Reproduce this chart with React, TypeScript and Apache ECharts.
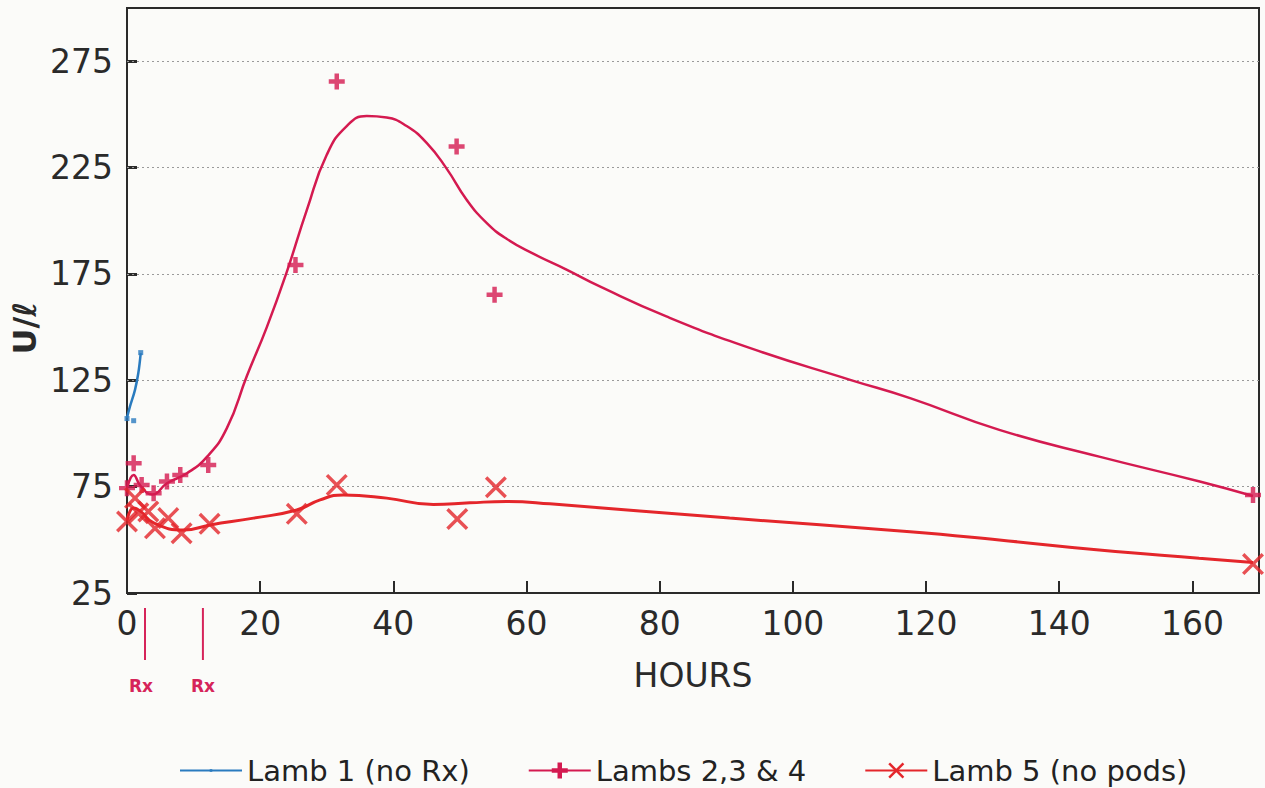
import React, { useEffect, useRef } from "react";
import * as echarts from "echarts";

// ---- data ----
const xTickInterval = 20;
const yTickValues = [25, 75, 125, 175, 225, 275];
const gridValues = [75, 125, 175, 225, 275];

const seriesNames = ["Lamb 1 (no Rx)", "Lambs 2,3 & 4", "Lamb 5 (no pods)"];

const lamb1Points: number[][] = [[0, 107], [1, 106], [2.06, 138]];
const lamb1Curve: number[][] = [[0, 107.4], [0.45, 112.7], [1.2, 120.5], [1.7, 128.4], [2.06, 137.8]];

const lambs234Points: number[][] = [
  [0, 74.3], [1, 86], [2.2, 75.8], [4, 71.9], [6, 77.4], [8, 80.5], [12.2, 85.2],
  [25.3, 179.2], [31.5, 265.5], [49.5, 234.9], [55.2, 165.2], [169.1, 71.1],
];
const lambs234Curve: number[][] = [
  [0, 74], [1, 80.5], [2, 75.5], [3.8, 71.3], [6, 76.6], [9, 81.3], [12, 89], [15, 102.5],
  [18, 127], [21, 150], [24, 176], [27, 205], [30, 231], [33, 244.5], [36, 249.2], [39, 248.5],
  [42, 244.5], [45, 236.6], [48, 224.5], [51, 209.9], [54, 199], [57, 191.5], [61, 184.5],
  [66, 177], [71, 169.1], [81, 155], [93.5, 140.2], [108.6, 125.2], [117.6, 116.6],
  [131, 101.7], [146, 89.1], [161.1, 77.4], [169.1, 70.6],
];

const lamb5Points: number[][] = [
  [0, 58.6], [1.2, 69.6], [1.7, 62.5], [3.2, 63.3], [4.2, 55.4], [6.2, 60.2], [8.2, 53.1],
  [12.4, 57.5], [25.5, 62.2], [31.5, 75.8], [49.6, 59.8], [55.4, 74.7], [169.1, 38.6],
];
const lamb5Curve: number[][] = [
  [0, 59], [1, 65], [2, 63.5], [4, 58], [8.5, 54.6], [12.5, 57], [19, 60.2], [25.5, 64],
  [29, 68.8], [32.5, 71.1], [39, 69.6], [46, 66.6], [51.5, 67.4], [57, 68], [63.5, 66.9],
  [90.5, 60.2], [117.6, 53.8], [131, 49.9], [146, 45.2], [161, 41.3], [169.1, 39.3],
];

const rxHours = [2.7, 11.4];

// ---- styling ----
const BLUE = "#2a7bbf";
const CRIMSON = "#d41a50";
const RED = "#e4262b";
const FONT = "DejaVu Sans";

const PLUS = "path://M3.6,0H6.4V3.6H10V6.4H6.4V10H3.6V6.4H0V3.6H3.6Z";
const CROSS = "path://M0,1.1L1.1,0L5,3.9L8.9,0L10,1.1L6.1,5L10,8.9L8.9,10L5,6.1L1.1,10L0,8.9L3.9,5Z";
const DOT = "path://M0,0L0,0M10,10L10,10M4.2,4.2H5.8V5.8H4.2Z";

export default function App() {
  const ref = useRef<HTMLDivElement>(null);

  useEffect(() => {
    if (!ref.current) return;
    const chart = echarts.init(ref.current, null, { renderer: "svg" });

    const option: any = {
      animation: false,
      backgroundColor: "#fbfbf9",
      grid: {
        left: 127,
        right: 6,
        top: 8,
        bottom: 195,
        show: true,
        borderColor: "#2a2a2a",
        borderWidth: 2,
        containLabel: false,
        outerBoundsMode: "none",
      },
      legend: {
        data: seriesNames,
        left: 174,
        top: 751,
        itemWidth: 62,
        itemHeight: 20,
        itemGap: 58,
        textStyle: { fontFamily: FONT, fontSize: 29, color: "#222" },
      },
      xAxis: {
        type: "value",
        min: 0,
        max: 170,
        interval: xTickInterval,
        name: "HOURS",
        nameLocation: "middle",
        nameGap: 66,
        nameTextStyle: { fontFamily: FONT, fontSize: 33, color: "#2a2a2a" },
        axisLine: { show: true, lineStyle: { color: "#2a2a2a", width: 2 } },
        axisTick: { show: true, inside: true, length: 12, lineStyle: { color: "#2a2a2a", width: 2 } },
        axisLabel: {
          fontFamily: FONT,
          fontSize: 33,
          color: "#2a2a2a",
          margin: 14,
          showMaxLabel: false,
        },
        splitLine: { show: false },
      },
      yAxis: {
        type: "value",
        min: 25,
        max: 300,
        axisLine: { show: true, lineStyle: { color: "#2a2a2a", width: 2 } },
        axisTick: {
          show: true,
          inside: true,
          length: 10,
          customValues: yTickValues,
          lineStyle: { color: "#2a2a2a", width: 3 },
        },
        axisLabel: {
          fontFamily: FONT,
          fontSize: 33,
          color: "#2a2a2a",
          margin: 14,
          customValues: yTickValues,
        },
        splitLine: { show: false },
      },
      series: [
        {
          name: seriesNames[0],
          type: "line",
          data: lamb1Curve,
          smooth: 0.4,
          symbol: DOT,
          showSymbol: false,
          lineStyle: { color: BLUE, width: 2.5 },
          itemStyle: { color: BLUE },
          silent: true,
          z: 3,
        },
        {
          name: seriesNames[1],
          type: "line",
          data: lambs234Curve,
          smooth: 0.5,
          symbol: PLUS,
          showSymbol: false,
          lineStyle: { color: CRIMSON, width: 2.5 },
          itemStyle: { color: CRIMSON },
          silent: true,
          z: 3,
          markLine: {
            silent: true,
            symbol: "none",
            label: { show: false },
            lineStyle: { color: "#9a9a9a", width: 1, type: [2, 3] },
            data: gridValues.map((v) => ({ yAxis: v })),
            z: 1,
          },
        },
        {
          name: seriesNames[2],
          type: "line",
          data: lamb5Curve,
          smooth: 0.5,
          symbol: CROSS,
          showSymbol: false,
          lineStyle: { color: RED, width: 3 },
          itemStyle: { color: RED },
          silent: true,
          z: 3,
        },
        {
          name: seriesNames[0],
          type: "scatter",
          data: lamb1Points,
          symbol: "rect",
          symbolSize: 5,
          itemStyle: { color: BLUE },
          z: 4,
        },
        {
          name: seriesNames[1],
          type: "scatter",
          data: lambs234Points,
          symbol: PLUS,
          symbolSize: 16,
          itemStyle: { color: CRIMSON },
          clip: false,
          z: 4,
        },
        {
          name: seriesNames[2],
          type: "scatter",
          data: lamb5Points,
          symbol: CROSS,
          symbolSize: 22,
          itemStyle: { color: RED },
          clip: false,
          z: 4,
        },
      ],
    };

    chart.setOption(option);

    const rxPx = rxHours.map((h) => chart.convertToPixel({ xAxisIndex: 0 }, h) as number);
    const graphics: any[] = [
      {
        type: "text",
        x: 25,
        y: 328,
        rotation: Math.PI / 2,
        style: {
          text: "U/\u2113",
          fontFamily: FONT,
          fontSize: 32,
          fontWeight: "bold",
          fill: "#2a2a2a",
          align: "center",
          verticalAlign: "middle",
        },
      },
    ];
    rxPx.forEach((x, i) => {
      graphics.push({
        type: "line",
        shape: { x1: x, y1: 608, x2: x, y2: 660 },
        style: { stroke: "#d6245a", lineWidth: 2 },
      });
      graphics.push({
        type: "text",
        x: x - (i === 0 ? 4 : 0),
        y: 686,
        style: {
          text: "Rx",
          fontFamily: FONT,
          fontSize: 17,
          fontWeight: "bold",
          fill: "#d6245a",
          align: "center",
          verticalAlign: "middle",
        },
      });
    });
    chart.setOption({ graphic: graphics });

    return () => {
      chart.dispose();
    };
  }, []);

  return (
    <div
      ref={ref}
      style={{ position: "fixed", left: 0, top: 0, width: 1265, height: 788 }}
    />
  );
}
